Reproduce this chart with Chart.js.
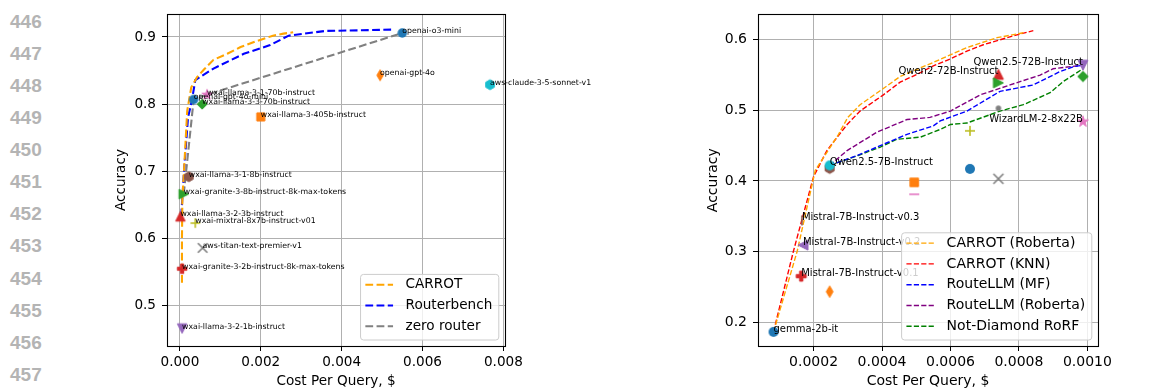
<!DOCTYPE html>
<html><head><meta charset="utf-8">
<script src="https://cdn.jsdelivr.net/npm/chart.js@4/dist/chart.umd.min.js"></script>
<style>
html,body{margin:0;padding:0;background:#fff;width:1163px;height:390px;overflow:hidden;}
.ln{position:absolute;left:10px;font:bold 19px "Liberation Sans",Arial,sans-serif;color:#b4b4b4;line-height:20px;}
canvas{position:absolute;top:0;}
</style></head><body>
<div id="nums"></div>
<canvas id="c1" width="590" height="390" style="left:100px"></canvas>
<canvas id="c2" width="473" height="390" style="left:690px"></canvas>
<script>
const FONT = "'DejaVu Sans', sans-serif";
const lineNumbers = [446,447,448,449,450,451,452,453,454,455,456,457];

// ---------- left panel data ----------
const leftModels = ['openai-o3-mini','openai-gpt-4o','aws-claude-3-5-sonnet-v1','wxai-llama-3-1-70b-instruct','openai-gpt-4o-mini','wxai-llama-3-3-70b-instruct','wxai-llama-3-405b-instruct','wxai-llama-3-1-8b-instruct','wxai-granite-3-8b-instruct-8k-max-tokens','wxai-llama-3-2-3b-instruct','wxai-mixtral-8x7b-instruct-v01','aws-titan-text-premier-v1','wxai-granite-3-2b-instruct-8k-max-tokens','wxai-llama-3-2-1b-instruct'];
const leftCost = [0.0055,0.00495,0.00767,0.00067,0.00034,0.00055,0.0020,0.00022,0.000094,0.000012,0.00038,0.00056,0.000054,0.000054];
const leftAcc  = [0.906,0.843,0.829,0.814,0.807,0.800,0.781,0.692,0.666,0.633,0.623,0.586,0.555,0.466];

const carrotCost = [0.00005,0.00005,0.00006,0.0001,0.00018,0.00028,0.00042,0.0006,0.00083,0.00117,0.0015,0.0019,0.0023,0.00256,0.0028];
const carrotAcc  = [0.534,0.60,0.66,0.70,0.79,0.825,0.840,0.852,0.866,0.875,0.885,0.894,0.902,0.905,0.907];
const routerbenchCost = [0.00003,0.00006,0.0001,0.0002,0.0003,0.00038,0.00083,0.00158,0.00223,0.00269,0.0036,0.0053];
const routerbenchAcc  = [0.633,0.66,0.70,0.78,0.807,0.836,0.853,0.875,0.888,0.902,0.909,0.911];
const zeroCost = [0.000094,0.00034,0.00067,0.0055];
const zeroAcc  = [0.666,0.807,0.814,0.906];
const leftSeries = ['CARROT','Routerbench','zero router'];
const leftXTicks = [0,0.002,0.004,0.006,0.008];
const leftYTicks = [0.5,0.6,0.7,0.8,0.9];

// ---------- right panel data ----------
const rightModels = ['gemma-2b-it','','Mistral-7B-Instruct-v0.1','Mistral-7B-Instruct-v0.2','Mistral-7B-Instruct-v0.3','','Qwen2.5-7B-Instruct','','','','','','','WizardLM-2-8x22B','Qwen2-72B-Instruct','','Qwen2.5-72B-Instruct',''];
const rightCost = [0.000083,0.000247,0.000164,0.000169,0.000166,0.000247,0.000247,0.000494,0.000494,0.000657,0.00074,0.000657,0.00074,0.000987,0.00074,0.00074,0.000987,0.000987];
const rightAcc  = [0.186,0.243,0.265,0.309,0.344,0.418,0.422,0.398,0.381,0.417,0.403,0.471,0.503,0.484,0.551,0.539,0.564,0.548];

const carrotRobCost = [0.000083,0.000152,0.000205,0.000249,0.000273,0.0003,0.000336,0.000404,0.000453,0.00055,0.000648,0.000736,0.000813];
const carrotRobAcc  = [0.186,0.30,0.415,0.448,0.466,0.49,0.508,0.531,0.548,0.568,0.589,0.603,0.610];
const carrotKnnCost = [0.000083,0.000141,0.0002,0.000239,0.000298,0.000336,0.000404,0.000453,0.000502,0.00055,0.0006,0.000648,0.000696,0.000745,0.000794,0.000842];
const carrotKnnAcc  = [0.186,0.30,0.406,0.443,0.48,0.499,0.522,0.540,0.551,0.563,0.573,0.584,0.593,0.600,0.607,0.613];
const mfCost = [0.000247,0.000327,0.000395,0.000473,0.00055,0.00057,0.000648,0.000745,0.000842,0.00092,0.00096,0.000987];
const mfAcc  = [0.422,0.436,0.45,0.466,0.478,0.485,0.499,0.527,0.536,0.555,0.562,0.564];
const rlRobCost = [0.000247,0.000298,0.000385,0.000473,0.00054,0.0006,0.000687,0.000774,0.000862,0.0009,0.000987];
const rlRobAcc  = [0.422,0.443,0.469,0.487,0.49,0.499,0.522,0.536,0.55,0.559,0.564];
const rorfCost = [0.000247,0.00033,0.000395,0.000443,0.000512,0.00057,0.0006,0.000648,0.000745,0.000813,0.000891,0.00093,0.000987];
const rorfAcc  = [0.422,0.436,0.448,0.459,0.462,0.473,0.48,0.482,0.499,0.508,0.525,0.541,0.559];
const rightSeries = ['CARROT (Roberta)','CARROT (KNN)','RouteLLM (MF)','RouteLLM (Roberta)','Not-Diamond RoRF'];
const rightXTicks = [0.0002,0.0004,0.0006,0.0008,0.0010];
const rightYTicks = [0.2,0.3,0.4,0.5,0.6];

// ---------- styles ----------
const T = {blue:'#1f77b4',orange:'#ff7f0e',green:'#2ca02c',red:'#d62728',purple:'#9467bd',brown:'#8c564b',pink:'#e377c2',gray:'#7f7f7f',olive:'#bcbd22',cyan:'#17becf'};
const leftMarkerStyle = [['o','blue'],['d','orange'],['h','cyan'],['*','pink'],['o','blue'],['D','green'],['s','orange'],['h','brown'],['>','green'],['^','red'],['+','olive'],['x','gray'],['P','red'],['v','purple']];
const leftLabelAlign = leftModels.map(()=> 'left');
const rightMarkerStyle = [['o','blue'],['d','orange'],['P','red'],['<','purple'],['|','brown'],['h','brown'],['o','cyan'],['s','orange'],['_','pink'],['o','blue'],['x','gray'],['+','olive'],['.','gray'],['*','pink'],['^','red'],['>','green'],['v','purple'],['D','green']];
const rightLabelAlign = ['left','left','left','left','left','left','left','left','left','left','left','left','left','right','right','left','right','left'];
const leftLineColors = ['#ffa500','#0000ff','#808080'];
const rightLineColors = ['#ffa500','#ff0000','#0000ff','#800080','#008000'];

// line numbers
const nums = document.getElementById('nums');
lineNumbers.forEach((n,i)=>{ const d=document.createElement('div'); d.className='ln'; d.textContent=n; d.style.top=(21.7+i*32.1-10)+'px'; nums.appendChild(d); });

function marker(shape, color, S) {
  const n = Math.ceil(S*1.6)+4;
  const c = document.createElement('canvas'); c.width = n; c.height = n;
  const g = c.getContext('2d'); g.translate(n/2, n/2);
  g.fillStyle = color; g.strokeStyle = color; g.lineWidth = 1;
  const r = S/2;
  const poly = pts => { g.beginPath(); pts.forEach(([x,y],i)=> i?g.lineTo(x,y):g.moveTo(x,y)); g.closePath(); g.fill(); g.stroke(); };
  const seg = (a,b,c2,d) => { g.beginPath(); g.moveTo(a,b); g.lineTo(c2,d); g.stroke(); };
  switch(shape){
    case 'o': g.beginPath(); g.arc(0,0,r,0,2*Math.PI); g.fill(); break;
    case '.': g.beginPath(); g.arc(0,0,r*0.55,0,2*Math.PI); g.fill(); break;
    case 'h': { const p=[]; for(let k=0;k<6;k++){const a=-Math.PI/2+k*Math.PI/3; p.push([r*1.05*Math.cos(a), r*1.05*Math.sin(a)]);} poly(p); break; }
    case 's': { const q=r*0.85; poly([[-q,-q],[q,-q],[q,q],[-q,q]]); break; }
    case 'D': { const d=r*1.05; poly([[0,-d],[d,0],[0,d],[-d,0]]); break; }
    case 'd': poly([[0,-r*1.15],[r*0.68,0],[0,r*1.15],[-r*0.68,0]]); break;
    case '^': poly([[0,-r],[r,r],[-r,r]]); break;
    case 'v': poly([[0,r],[r,-r],[-r,-r]]); break;
    case '<': poly([[-r,0],[r,-r],[r,r]]); break;
    case '>': poly([[r,0],[-r,-r],[-r,r]]); break;
    case 'P': { const a=r/3, b=r; poly([[-a,-b],[a,-b],[a,-a],[b,-a],[b,a],[a,a],[a,b],[-a,b],[-a,a],[-b,a],[-b,-a],[-a,-a]]); break; }
    case '+': g.lineWidth=1.6; seg(-r,0,r,0); seg(0,-r,0,r); break;
    case 'x': g.lineWidth=1.6; seg(-r,-r,r,r); seg(-r,r,r,-r); break;
    case '_': g.lineWidth=1.6; seg(-r,0,r,0); break;
    case '|': g.lineWidth=1.6; seg(0,-r,0,r); break;
    case '*': { const p=[]; const R=r*1.15, ri=R*0.382; for(let k=0;k<10;k++){const a=-Math.PI/2+k*Math.PI/5; const rr=k%2?ri:R; p.push([rr*Math.cos(a), rr*Math.sin(a)]);} poly(p); break; }
  }
  return c;
}

function makePanel(id, o) {
  const pts = o.cost.map((x,i)=>({x, y:o.acc[i]}));
  const datasets = [{
    data: pts, order: 0,
    pointStyle: o.markers.map(([s,c])=>marker(s, T[c], o.ms)),
    pointRadius: 5, showLine:false
  }];
  o.lines.forEach((ln,k)=>{
    datasets.push({
      data: ln[0].map((x,i)=>({x, y:ln[1][i]})), order: 1+k,
      showLine:true, borderColor:o.lineColors[k], borderWidth:o.lw, borderDash:o.dash,
      pointRadius:0, fill:false, tension:0
    });
  });
  const tickFont = {family:FONT, size:o.fs};
  const deco = {
    id:'deco',
    afterDatasetsDraw(chart){
      const {ctx, chartArea:a, scales:{x,y}} = chart;
      ctx.save();
      ctx.strokeStyle='#000'; ctx.lineWidth=1.1; ctx.setLineDash([]);
      ctx.strokeRect(Math.round(a.left)+0.5, Math.round(a.top)+0.5, Math.round(a.right-a.left), Math.round(a.bottom-a.top));
      ctx.fillStyle='#000'; ctx.font = o.labelSize+'px '+FONT; ctx.textBaseline='alphabetic';
      o.names.forEach((nm,i)=>{ if(!nm) return; ctx.textAlign=o.align[i]; ctx.fillText(nm, x.getPixelForValue(o.cost[i]), y.getPixelForValue(o.acc[i])); });
      ctx.font = o.fs+'px '+FONT;
      const maxW = Math.max(...o.series.map(s=>ctx.measureText(s).width));
      const w = 45.5 + maxW + 6, h = 24 + (o.series.length-1)*20.8;
      const L = a.right - 6.7 - w, Tp = a.bottom - 6.5 - h;
      ctx.beginPath(); ctx.roundRect(L+0.5, Tp+0.5, w, h, 3);
      ctx.fillStyle='rgba(255,255,255,0.8)'; ctx.fill();
      ctx.strokeStyle='#cccccc'; ctx.lineWidth=1; ctx.stroke();
      o.series.forEach((s,i)=>{
        const yy = Tp + 10.8 + i*20.8;
        ctx.strokeStyle=o.lineColors[i]; ctx.lineWidth=o.lw; ctx.setLineDash(o.dash);
        ctx.beginPath(); ctx.moveTo(L+5.3, yy); ctx.lineTo(L+33, yy); ctx.stroke();
        ctx.setLineDash([]);
        ctx.fillStyle='#000'; ctx.textAlign='left'; ctx.textBaseline='middle';
        ctx.fillText(s, L+45.5, yy);
      });
      ctx.restore();
    }
  };
  return new Chart(document.getElementById(id), {
    type:'scatter',
    data:{datasets},
    options:{
      responsive:false, animation:false, devicePixelRatio:1,
      layout:{padding:{left:0, top:o.padTop, right:o.padRight, bottom:0}},
      plugins:{legend:{display:false}, tooltip:{enabled:false}},
      scales:{
        x:{type:'linear', min:o.xmin, max:o.xmax,
           afterBuildTicks:s=>{s.ticks=o.xticks.map(v=>({value:v}));},
           afterFit:s=>{s.height=44;},
           ticks:{callback:v=>Number(v).toFixed(o.xdec), font:tickFont, color:'#000', padding:3, maxRotation:0, autoSkip:false},
           grid:{color:'#b0b0b0', lineWidth:1, tickColor:'#000', tickLength:5, tickWidth:1},
           border:{display:false},
           title:{display:true, text:'Cost Per Query, $', font:tickFont, color:'#000', padding:{top:0,bottom:0}}},
        y:{type:'linear', min:o.ymin, max:o.ymax,
           afterBuildTicks:s=>{s.ticks=o.yticks.map(v=>({value:v}));},
           afterFit:s=>{s.width=o.yw;},
           ticks:{callback:v=>Number(v).toFixed(1), font:tickFont, color:'#000', padding:6, autoSkip:false},
           grid:{color:'#b0b0b0', lineWidth:1, tickColor:'#000', tickLength:5, tickWidth:1},
           border:{display:false},
           title:{display:true, text:'Accuracy', font:tickFont, color:'#000', padding:{top:o.ytp,bottom:0}}}
      }
    },
    plugins:[deco]
  });
}

makePanel('c1', {
  names:leftModels, cost:leftCost, acc:leftAcc, markers:leftMarkerStyle, align:leftLabelAlign, ms:9.5, labelSize:7.8,
  lines:[[carrotCost,carrotAcc],[routerbenchCost,routerbenchAcc],[zeroCost,zeroAcc]],
  lineColors:leftLineColors, series:leftSeries, lw:2.1, dash:[7.8,3.4], fs:13.6,
  xmin:-0.00032, xmax:0.00804, ymin:0.44, ymax:0.934, xticks:leftXTicks, yticks:leftYTicks, xdec:3,
  padTop:10, padRight:185, yw:67, ytp:13.3
});
makePanel('c2', {
  names:rightModels, cost:rightCost, acc:rightAcc, markers:rightMarkerStyle, align:rightLabelAlign, ms:10, labelSize:10,
  lines:[[carrotRobCost,carrotRobAcc],[carrotKnnCost,carrotKnnAcc],[mfCost,mfAcc],[rlRobCost,rlRobAcc],[rorfCost,rorfAcc]],
  lineColors:rightLineColors, series:rightSeries, lw:1.4, dash:[5.2,2.2], fs:14,
  xmin:0.0000377, xmax:0.001031, ymin:0.166, ymax:0.636, xticks:rightXTicks, yticks:rightYTicks, xdec:4,
  padTop:8, padRight:65, yw:68, ytp:14.6
});
</script></body></html>
